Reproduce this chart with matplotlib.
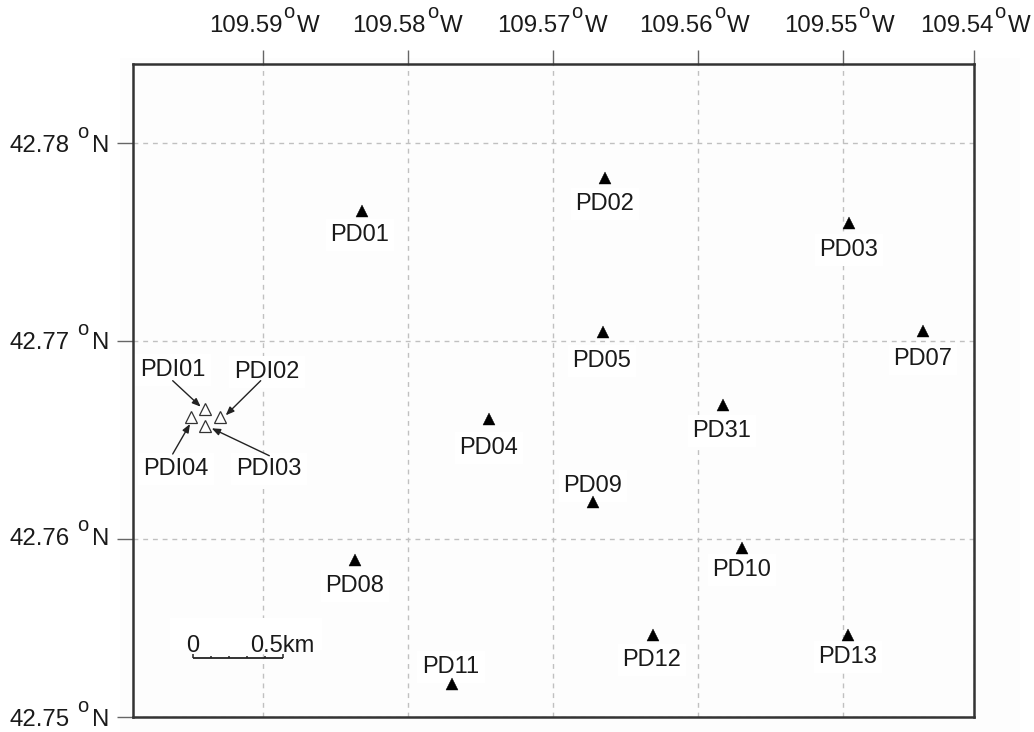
import matplotlib
matplotlib.use("Agg")
import matplotlib.pyplot as plt
from matplotlib.patches import Rectangle

plt.rcParams['font.family'] = ['Liberation Sans', 'DejaVu Sans']

# ---- data ----
stations = ['PD01', 'PD02', 'PD03', 'PD04', 'PD05', 'PD07', 'PD08',
            'PD09', 'PD10', 'PD11', 'PD12', 'PD13', 'PD31']
station_lon = [109.58317, 109.56641, 109.54959, 109.57441, 109.56655, 109.54448, 109.58366,
               109.56724, 109.55697, 109.57697, 109.56310, 109.54966, 109.55828]
station_lat = [42.77657, 42.77823, 42.77596, 42.76606, 42.77045, 42.77051, 42.75894,
               42.76187, 42.75955, 42.75268, 42.75515, 42.75515, 42.76677]

infra = ['PDI01', 'PDI02', 'PDI03', 'PDI04']
infra_lon = [109.59400, 109.59297, 109.59400, 109.59497]
infra_lat = [42.76657, 42.76616, 42.76571, 42.76616]

lon_ticks = [109.59, 109.58, 109.57, 109.56, 109.55, 109.54]
lat_ticks = [42.78, 42.77, 42.76, 42.75]
scale_km = [0, 0.1, 0.2, 0.3, 0.4, 0.5]
KM_PER_DEG_LON = 80.6

# ---- layout (reference pixels) ----
W, H = 1034, 732
L, R, T, B = 133, 974, 64, 717
LON_LEFT, LON_RIGHT = 109.59897, 109.54097
LAT_TOP, LAT_BOTTOM = 42.78399, 42.75101
FS = 17.0
TXT = '#1a1a1a'
label_px = {'PD01': (360, 233), 'PD02': (605, 202), 'PD03': (849, 248), 'PD04': (489, 446),
            'PD05': (602, 359), 'PD07': (923, 357), 'PD08': (355, 584), 'PD09': (593, 484),
            'PD10': (742, 568), 'PD11': (451, 665), 'PD12': (652, 658), 'PD13': (848, 655),
            'PD31': (722, 429)}
infra_label_px = {'PDI01': (173, 368), 'PDI02': (267, 370), 'PDI03': (269, 467), 'PDI04': (176, 467)}
arrow_px = {'PDI01': ((172.7, 380.7), (200.7, 406.7)),
            'PDI02': ((260.7, 380.7), (225.7, 415.3)),
            'PDI03': ((269.3, 455.7), (211.7, 428.3)),
            'PDI04': ((172.7, 454.0), (190.0, 424.0))}
lon_label_centre_px = [264.5, 408, 552.5, 695, 839.5, 975.5]
lat_label_baseline_px = [152, 349, 545, 726]


def fx(x):
    return x / W


def fy(y):
    return 1 - y / H


fig = plt.figure(figsize=(W / 100, H / 100), dpi=100, facecolor='white')
fig.add_artist(Rectangle((fx(120), 0), fx(1020) - fx(120), fy(58), transform=fig.transFigure,
                         fc='#fdfdfd', ec='none', zorder=-5))
ax = fig.add_axes([fx(L), fy(B), fx(R) - fx(L), fy(T) - fy(B)], facecolor='#fdfdfd')
ax.set_xlim(LON_LEFT, LON_RIGHT)
ax.set_ylim(LAT_BOTTOM, LAT_TOP)


def ftext(x, y, s, ha='center', fs=FS, **kw):
    return ax.text(fx(x), fy(y), s, transform=fig.transFigure, ha=ha, va='baseline', fontsize=fs,
                   color=TXT, clip_on=False, **kw)


# the last tick of each axis sits on the frame edge in the reference
ax.set_xticks(lon_ticks[:-1] + [LON_RIGHT], labels=[])
ax.set_yticks(lat_ticks[:-1] + [LAT_BOTTOM], labels=[])
ax.xaxis.tick_top()
ax.tick_params(axis='x', length=10, width=1.0, color='#666666')
ax.tick_params(axis='y', length=11.5, width=1.0, color='#666666')
ax.grid(True, color='#c0c0c0', lw=1.0, ls=(0, (3.5, 3.5)), zorder=0)
ax.set_axisbelow(True)
for s in ax.spines.values():
    s.set_linewidth(1.8)
    s.set_color('#333333')
    s.set_zorder(7)

for v, c in zip(lon_ticks, lon_label_centre_px):
    ftext(c + 18, 32, f'{v:.2f}', ha='right', fs=17.3, zorder=6)
    ftext(c + 24.5, 18, 'o', fs=14.5, zorder=6)
    ftext(c + 32, 32, 'W', ha='left', fs=17.3, zorder=6)
for v, b in zip(lat_ticks, lat_label_baseline_px):
    ftext(70, b, f'{v:.2f}', ha='right', fs=17.3, zorder=6)
    ftext(82.5, b - 14, 'o', fs=14.5, zorder=6)
    ftext(92, b, 'N', ha='left', fs=17.3, zorder=6)

# stations
ax.plot(station_lon, station_lat, ls='none', marker='^', ms=8.8, mfc='black', mec='black', mew=0.3, zorder=4)
ax.plot(infra_lon, infra_lat, ls='none', marker='^', ms=8.8, mfc='white', mec='#333333', mew=0.9, zorder=4)

box = dict(fc='white', ec='none', pad=3.5)
for name in stations:
    x, y = label_px[name]
    ftext(x, y + 8, name, bbox=box, zorder=3)
for name in infra:
    x, y = infra_label_px[name]
    ftext(x, y + 8, name, bbox=box, zorder=3)
    start, end = arrow_px[name]
    ax.annotate('', xy=(fx(end[0]), fy(end[1])), xycoords='figure fraction',
                xytext=(fx(start[0]), fy(start[1])), textcoords='figure fraction',
                arrowprops=dict(arrowstyle='-|>,head_length=0.5,head_width=0.2', color='#222222',
                                lw=1.0, shrinkA=0, shrinkB=0), zorder=5)

# scale bar
ax.add_patch(Rectangle((fx(170), fy(650)), fx(322) - fx(170), fy(618) - fy(650),
                       transform=fig.transFigure, fc='white', ec='none', zorder=2))
x0_lon = 109.59 + (263 - 193) / 14500
y0_lat = 42.78 - (658.5 - 143) / 19800
bar_lon = [x0_lon - k / KM_PER_DEG_LON for k in scale_km]
ax.plot([bar_lon[0], bar_lon[-1]], [y0_lat, y0_lat], color='#222222', lw=1.3, zorder=5, solid_capstyle='butt')
for i, lon in enumerate(bar_lon):
    h = 4 if i in (0, len(bar_lon) - 1) else 2
    ax.plot([lon, lon], [y0_lat, y0_lat + h / 19800], color='#222222', lw=1.1, zorder=5, solid_capstyle='butt')
ftext(193, 652, '0', zorder=6)
ftext(250, 652, '0.5km', ha='left', zorder=6)

fig.savefig('out.png', dpi=100, facecolor='white')
